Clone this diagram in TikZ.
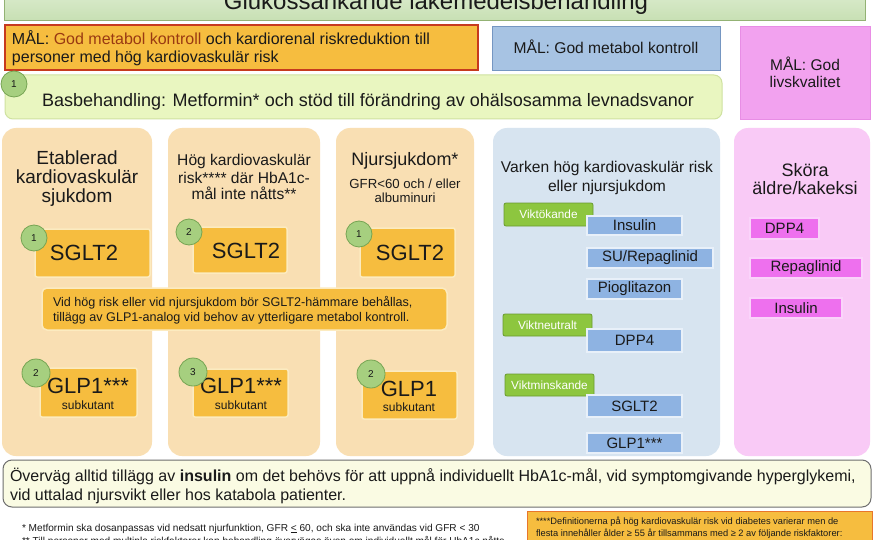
\documentclass[tikz,border=0pt]{standalone}
\usepackage{fontspec}
\setmainfont{Liberation Sans}
\newcommand{\fsz}[2]{\fontsize{#1}{#2}\selectfont}
\definecolor{txtc}{HTML}{1A1A1A}
\definecolor{orF}{HTML}{F6BD3F}
\definecolor{redB}{HTML}{C63A1E}
\definecolor{brT}{HTML}{9A3A12}
\definecolor{blueM}{HTML}{A7C3E3}
\definecolor{blueMB}{HTML}{7596C2}
\definecolor{pinkM}{HTML}{F2A2EF}
\definecolor{pinkMB}{HTML}{E88DE5}
\definecolor{basF}{HTML}{E9F6C0}
\definecolor{basB}{HTML}{CFE2A0}
\definecolor{circF}{HTML}{A6CF7F}
\definecolor{circB}{HTML}{76A453}
\definecolor{peach}{HTML}{F9DFB3}
\definecolor{blueC}{HTML}{D7E4F0}
\definecolor{pinkC}{HTML}{F9CAF6}
\definecolor{cream}{HTML}{FCEBC0}
\definecolor{blueI}{HTML}{8EB3E2}
\definecolor{greenT}{HTML}{8DC63F}
\definecolor{greenTB}{HTML}{6A9A30}
\definecolor{pinkI}{HTML}{EE70EE}
\definecolor{overF}{HTML}{FAFBE3}
\definecolor{overB}{HTML}{6E6E6E}
\definecolor{fnB}{HTML}{E8762B}
\definecolor{titT}{HTML}{E3F0D8}
\definecolor{titB}{HTML}{C8E0B4}
\definecolor{titBorder}{HTML}{93B274}
\begin{document}
\begin{tikzpicture}[x=1pt,y=-1pt,
 box/.style={draw, anchor=north west, inner sep=0pt, outer sep=0pt},
 txt/.style={anchor=base, inner sep=0pt, outer sep=0pt, text=txtc},
 txtl/.style={anchor=base west, inner sep=0pt, outer sep=0pt, text=txtc},
 circ/.style={circle, fill=circF, draw=circB, line width=0.8pt, minimum size=26pt, inner sep=0pt, font=\fsz{10}{12}, text=txtc},
 column/.style={box, draw=none, rounded corners=14pt, minimum height=328pt},
 drug/.style={box, fill=orF, draw=cream, line width=1.5pt, rounded corners=2pt},
 bitem/.style={box, fill=blueI, draw=white!80!blueI, line width=1.5pt, font=\fsz{15}{18}, text=txtc},
 pitem/.style={box, fill=pinkI, draw=white!70!pinkI, line width=1.5pt, font=\fsz{15}{18}, text=txtc},
 gtag/.style={box, fill=greenT, draw=greenTB, line width=0.8pt, rounded corners=2pt, font=\fsz{11.8}{14}, text=white},
]
\useasboundingbox (0,0) rectangle (880,540);
\clip (0,0) rectangle (880,540);
\fill[white] (0,0) rectangle (880,540);

% title band
\node[box, draw=titBorder, line width=0.8pt, top color=titT, bottom color=titB, minimum width=861pt, minimum height=40pt] (titlebox) at (4,-20) {};
\node[txt, font=\fsz{24}{28}] (title) at (436,10) {Glukossänkande läkemedelsbehandling};

% goals
\node[box, fill=orF, draw=redB, line width=1.2pt, minimum width=473pt, minimum height=45pt] (mal1) at (5,25) {};
\node[txtl, font=\fsz{16}{19}] (mal1a) at (12,45) {MÅL: \textcolor{brT}{God metabol kontroll} och kardiorenal riskreduktion till};
\node[txtl, font=\fsz{16}{19}] (mal1b) at (12,63) {personer med hög kardiovaskulär risk};

\node[box, fill=blueM, draw=blueMB, line width=0.8pt, minimum width=228pt, minimum height=44pt] (mal2) at (492,26) {};
\node[txt, font=\fsz{15.6}{18}] (mal2t) at (606,54) {MÅL: God metabol kontroll};

\node[box, fill=pinkM, draw=pinkMB, line width=0.8pt, minimum width=130pt, minimum height=93pt] (mal3) at (740,26) {};
\node[txt, font=\fsz{15.5}{18}] (mal3a) at (805,71) {MÅL: God};
\node[txt, font=\fsz{15.5}{18}] (mal3b) at (805,88) {livskvalitet};

% base treatment
\node[box, fill=basF, draw=basB, line width=1pt, rounded corners=8pt, minimum width=717pt, minimum height=44pt] (bas) at (5,75) {};
\node[txtl, font=\fsz{18}{21}] (bast) at (42,107) {Basbehandling: Metformin* och stöd till förändring av ohälsosamma levnadsvanor};
\node[circ] (cbas) at (14,84) {1};

% columns
\node[column, fill=peach, minimum width=150pt] (col1) at (2,128) {};
\node[column, fill=peach, minimum width=152pt] (col2) at (168,128) {};
\node[column, fill=peach, minimum width=138pt] (col3) at (336,128) {};
\node[column, fill=blueC, minimum width=227pt] (col4) at (493,128) {};
\node[column, fill=pinkC, minimum width=136pt] (col5) at (734,128) {};

% column titles
\node[txt, font=\fsz{19}{22}] (t1a) at (77,165) {Etablerad};
\node[txt, font=\fsz{19}{22}] (t1b) at (77,184) {kardiovaskulär};
\node[txt, font=\fsz{19}{22}] (t1c) at (77,203) {sjukdom};

\node[txt, font=\fsz{15.6}{18}] (t2a) at (244,166) {Hög kardiovaskulär};
\node[txt, font=\fsz{15.6}{18}] (t2b) at (244,183) {risk**** där HbA1c-};
\node[txt, font=\fsz{15.6}{18}] (t2c) at (244,200) {mål inte nåtts**};

\node[txt, font=\fsz{18}{21}] (t3a) at (405,166) {Njursjukdom*};
\node[txt, font=\fsz{13.2}{15}] (t3b) at (405,189) {GFR<60 och / eller};
\node[txt, font=\fsz{13.2}{15}] (t3c) at (405,202) {albuminuri};

% SGLT2 boxes
\node[drug, minimum width=115pt, minimum height=48pt] (s1) at (35,229) {};
\node[txt, font=\fsz{22}{26}] (s1t) at (84,260) {SGLT2};
\node[circ] (cs1) at (34,238) {1};

\node[drug, minimum width=94pt, minimum height=46pt] (s2) at (193,227) {};
\node[txt, font=\fsz{22}{26}] (s2t) at (246,258) {SGLT2};
\node[circ] (cs2) at (189,232) {2};

\node[drug, minimum width=95pt, minimum height=49pt] (s3) at (360,228) {};
\node[txt, font=\fsz{22}{26}] (s3t) at (410,260) {SGLT2};
\node[circ] (cs3) at (359,234) {1};

% note box
\node[drug, rounded corners=5pt, minimum width=405pt, minimum height=42pt] (vid) at (42,288) {};
\node[txtl, font=\fsz{12.6}{15}] (vida) at (53,306) {Vid hög risk eller vid njursjukdom bör SGLT2-hämmare behållas,};
\node[txtl, font=\fsz{12.6}{15}] (vidb) at (53,321) {tillägg av GLP1-analog vid behov av ytterligare metabol kontroll.};

% GLP1 boxes
\node[drug, minimum width=97pt, minimum height=49pt] (g1) at (40,368) {};
\node[txt, font=\fsz{22}{26}] (g1t) at (88,393) {GLP1***};
\node[txt, font=\fsz{12}{14}] (g1s) at (88,409) {subkutant};
\node[circ, minimum size=28pt] (cg1) at (36,373) {2};

\node[drug, minimum width=95pt, minimum height=48pt] (g2) at (193,369) {};
\node[txt, font=\fsz{22}{26}] (g2t) at (241,393) {GLP1***};
\node[txt, font=\fsz{12}{14}] (g2s) at (241,409) {subkutant};
\node[circ, minimum size=28pt] (cg2) at (193,372) {3};

\node[drug, minimum width=95pt, minimum height=48pt] (g3) at (362,371) {};
\node[txt, font=\fsz{22}{26}] (g3t) at (409,396) {GLP1};
\node[txt, font=\fsz{12}{14}] (g3s) at (409,411) {subkutant};
\node[circ, minimum size=28pt] (cg3) at (371,374) {2};

% blue column
\node[txt, font=\fsz{15.6}{18}] (t4a) at (607,173) {Varken hög kardiovaskulär risk};
\node[txt, font=\fsz{15.6}{18}] (t4b) at (607,191) {eller njursjukdom};

\node[gtag, minimum width=89pt, minimum height=23pt] (vok) at (504,203) {Viktökande};
\node[gtag, minimum width=89pt, minimum height=22pt] (vne) at (503,314) {Viktneutralt};
\node[gtag, minimum width=89pt, minimum height=22pt] (vmi) at (505,374) {Viktminskande};

\node[bitem, minimum width=95pt, minimum height=19pt] (bins) at (587,216) {Insulin};
\node[bitem, minimum width=126pt, minimum height=20pt] (bsu) at (587,248) {SU/Repaglinid};
\node[bitem, minimum width=95pt, minimum height=20pt] (bpio) at (587,279) {Pioglitazon};
\node[bitem, minimum width=95pt, minimum height=23pt] (bdpp) at (587,329) {DPP4};
\node[bitem, minimum width=95pt, minimum height=22pt] (bsg) at (587,395) {SGLT2};
\node[bitem, minimum width=95pt, minimum height=20pt] (bglp) at (587,433) {GLP1***};

% pink column
\node[txt, font=\fsz{18}{21}] (t5a) at (805,176) {Sköra};
\node[txt, font=\fsz{18}{21}] (t5b) at (805,194) {äldre/kakeksi};
\node[pitem, minimum width=69pt, minimum height=21pt] (pdpp) at (750,218) {DPP4};
\node[pitem, minimum width=112pt, minimum height=20pt] (prep) at (750,258) {Repaglinid};
\node[pitem, minimum width=92pt, minimum height=20pt] (pins) at (750,298) {Insulin};

% insulin note
\node[box, fill=overF, draw=overB, line width=1pt, rounded corners=9pt, minimum width=868pt, minimum height=47pt] (over) at (3,460) {};
\node[txtl, font=\fsz{16}{19}] (overa) at (10,481) {Överväg alltid tillägg av \textbf{insulin} om det behövs för att uppnå individuellt HbA1c-mål, vid symptomgivande hyperglykemi,};
\node[txtl, font=\fsz{16}{19}] (overb) at (10,500) {vid uttalad njursvikt eller hos katabola patienter.};

% footnotes
\node[txtl, font=\fsz{10.1}{12}] (fn1) at (22,531) {* Metformin ska dosanpassas vid nedsatt njurfunktion, GFR \underline{<} 60, och ska inte användas vid GFR < 30};
\node[txtl, font=\fsz{10.1}{12}] (fn2) at (22,544) {** Till personer med multipla riskfaktorer kan behandling övervägas även om individuellt mål för HbA1c nåtts};

\node[box, fill=orF, draw=fnB, line width=1pt, minimum width=345pt, minimum height=40pt] (fnbox) at (527,511) {};
\node[txtl, font=\fsz{9.3}{11}] (fn4a) at (536,524) {****Definitionerna på hög kardiovaskulär risk vid diabetes varierar men de};
\node[txtl, font=\fsz{9.3}{11}] (fn4b) at (536,536) {flesta innehåller ålder ≥ 55 år tillsammans med ≥ 2 av följande riskfaktorer:};
\end{tikzpicture}
\end{document}
